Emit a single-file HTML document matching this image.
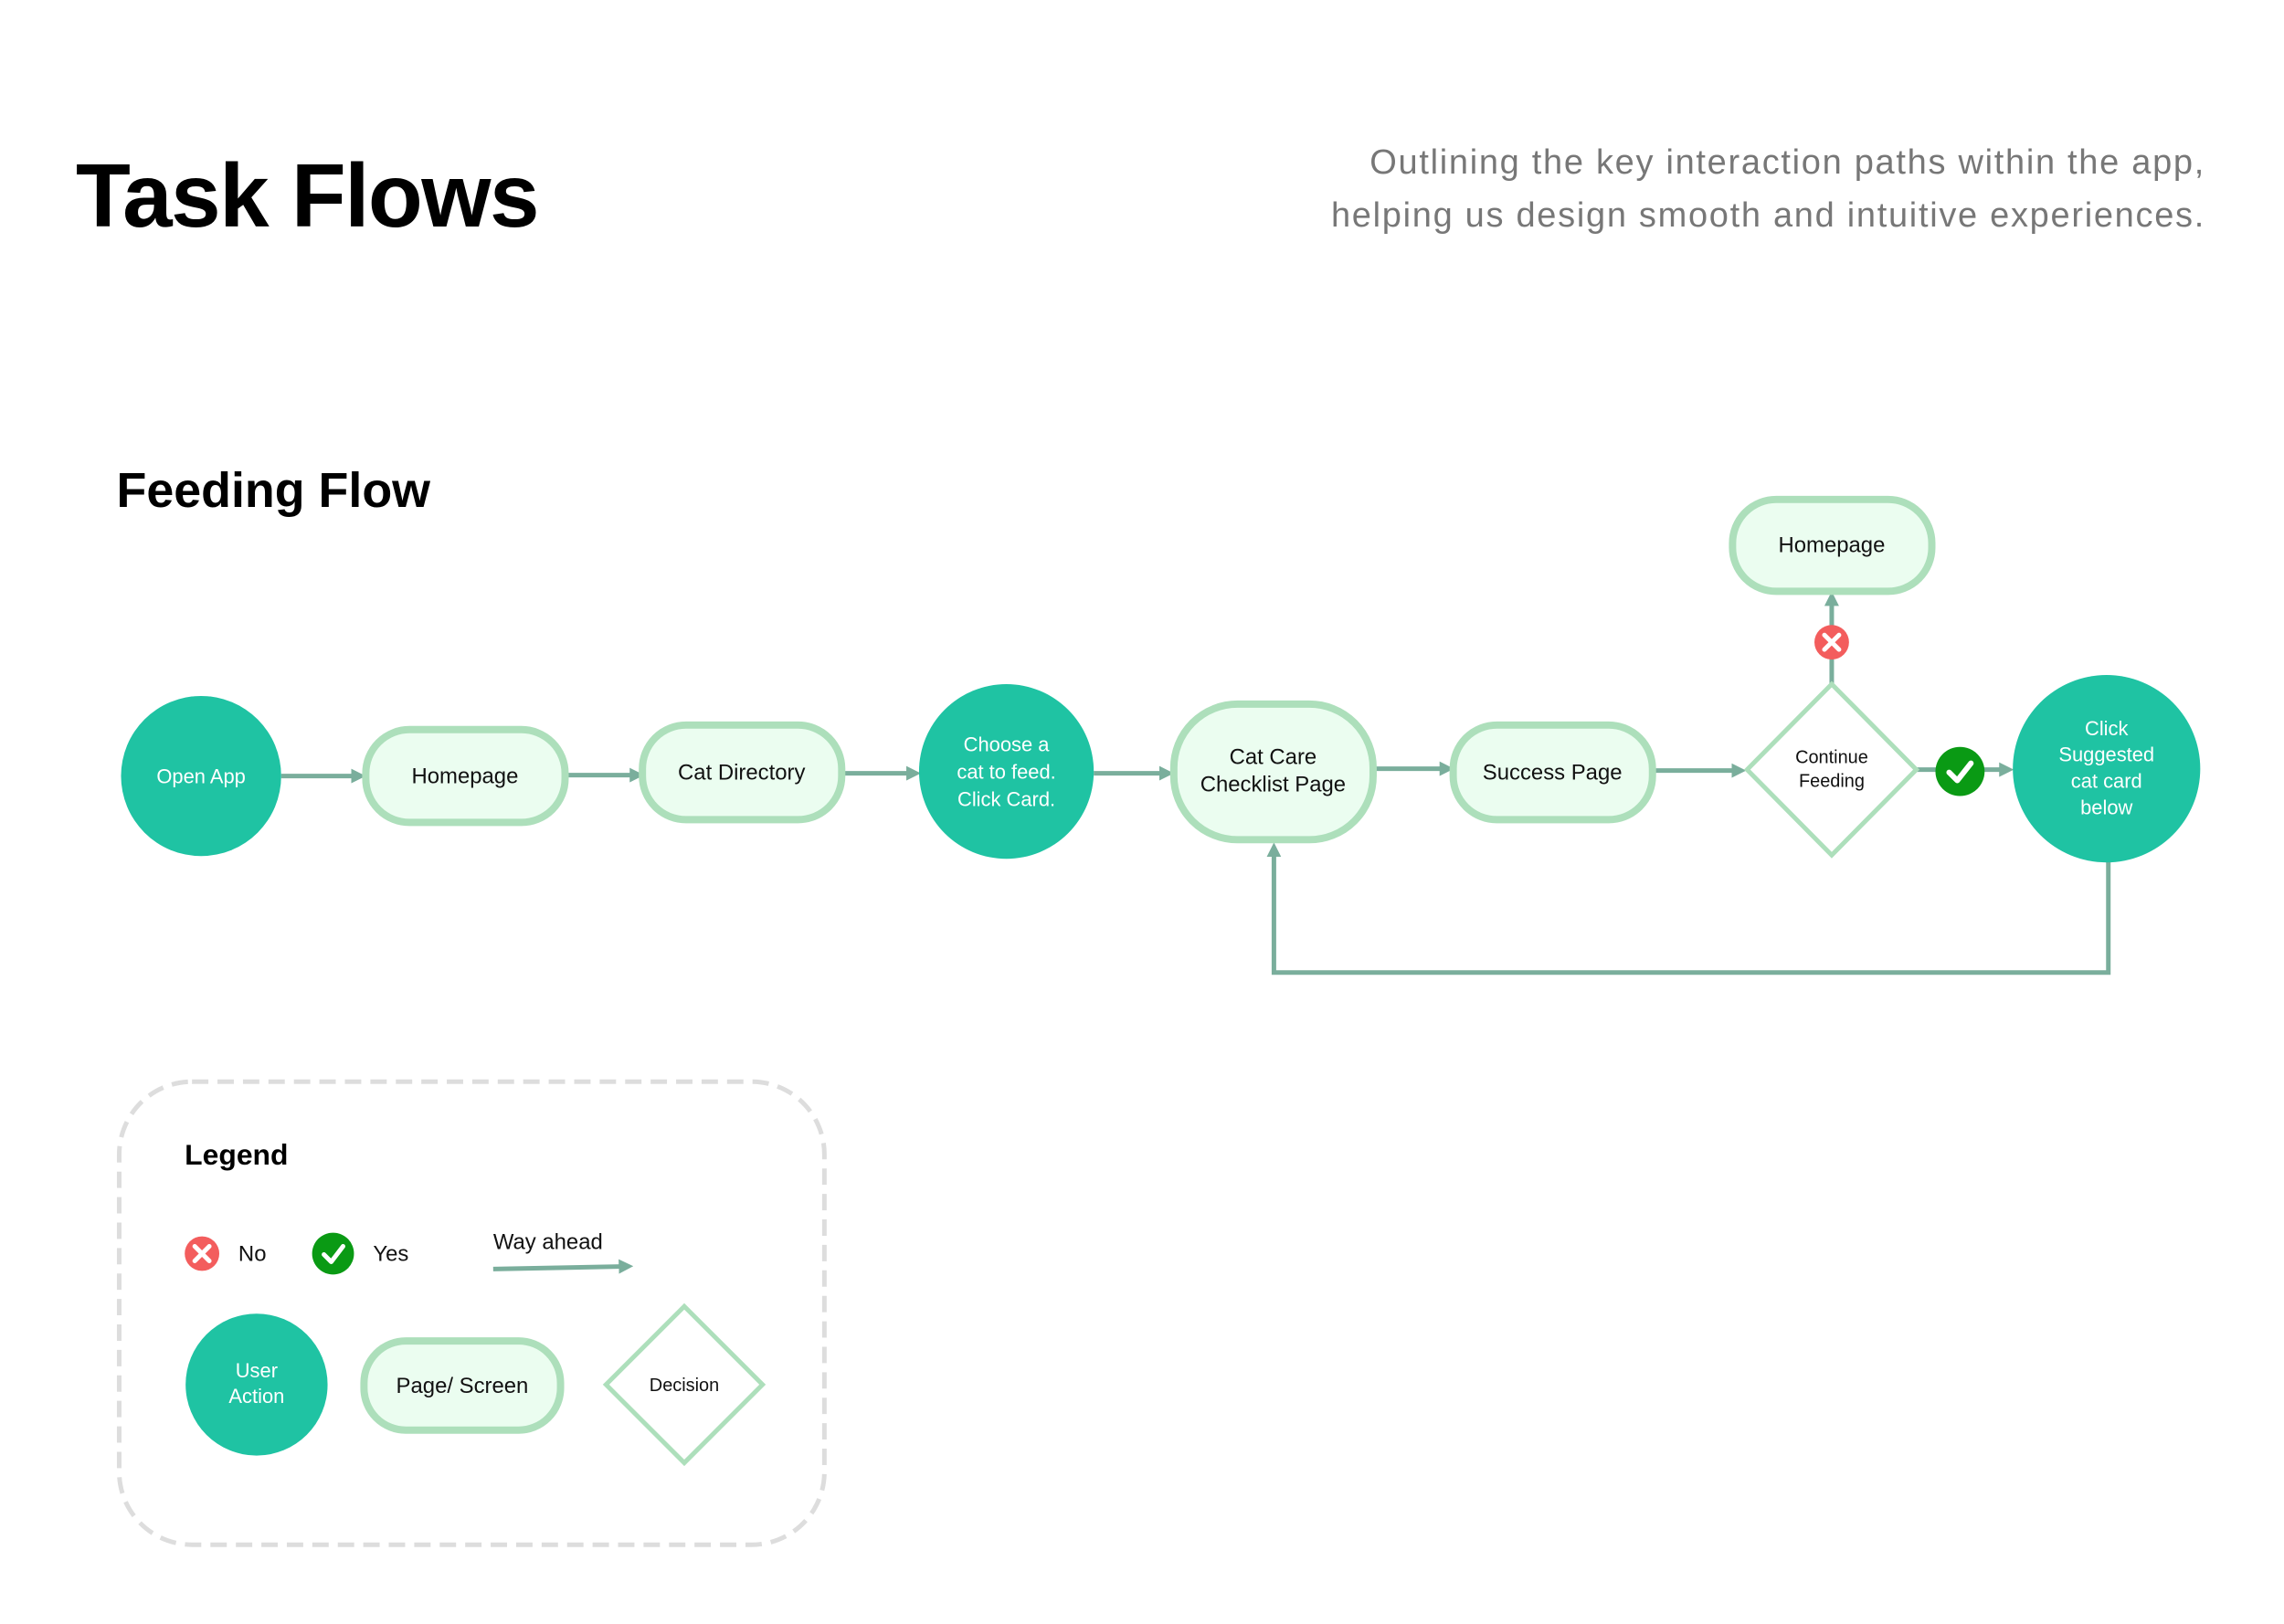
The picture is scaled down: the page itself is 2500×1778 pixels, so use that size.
<!DOCTYPE html>
<html><head><meta charset="utf-8"><style>
html,body{margin:0;padding:0;background:#fff}
svg{display:block}
text{font-family:"Liberation Sans",sans-serif}
</style></head><body>
<svg width="2500" height="1778" viewBox="0 0 2500 1778" xmlns="http://www.w3.org/2000/svg">
<defs>
<marker id="ah" markerWidth="16" markerHeight="16" refX="10" refY="8" orient="auto" markerUnits="userSpaceOnUse" viewBox="0 0 16 16">
<path d="M0,0 L16,8 L0,16 z" fill="#7aae9c"/>
</marker>
</defs>
<style>
.ln{stroke:#7aae9c;stroke-width:5;fill:none}
.pg{fill:#ebfdf0;stroke:#addfbb;stroke-width:8}
.ua{fill:#1fc3a3}
.t{font-size:24px;fill:#111;text-anchor:middle}
.w{font-size:22px;fill:#fff;text-anchor:middle}
</style>
<text x="83" y="248" font-size="98" font-weight="900" fill="#000" style="letter-spacing:-1.5px">Task Flows</text>
<text x="2414" y="190" font-size="38" fill="#777" text-anchor="end" style="letter-spacing:1.7px">Outlining the key interaction paths within the app,</text>
<text x="2414" y="248" font-size="38" fill="#777" text-anchor="end" style="letter-spacing:1.7px">helping us design smooth and intuitive experiences.</text>
<g transform="scale(0.996)">
<text x="128" y="557" font-size="54" font-weight="bold" fill="#000">Feeding Flow</text>

<line class="ln" x1="309" y1="853" x2="396" y2="853" marker-end="url(#ah)"/>
<line class="ln" x1="621" y1="852" x2="702" y2="852" marker-end="url(#ah)"/>
<line class="ln" x1="925" y1="850" x2="1006" y2="850" marker-end="url(#ah)"/>
<line class="ln" x1="1202" y1="850" x2="1284" y2="850" marker-end="url(#ah)"/>
<line class="ln" x1="1509" y1="845" x2="1592" y2="845" marker-end="url(#ah)"/>
<line class="ln" x1="1816" y1="847" x2="1913" y2="847" marker-end="url(#ah)"/>
<line class="ln" x1="2106" y1="846" x2="2207" y2="846" marker-end="url(#ah)"/>
<line class="ln" x1="2013" y1="752" x2="2013" y2="656" marker-end="url(#ah)"/>
<polyline class="ln" points="2317,945 2317,1069 1400,1069 1400,932" marker-end="url(#ah)"/>

<circle class="ua" cx="221" cy="853" r="88"/>
<text class="w" x="221" y="861">Open App</text>
<rect class="pg" x="402" y="802" width="219" height="102" rx="48"/>
<text class="t" x="511" y="861">Homepage</text>
<rect class="pg" x="706" y="797" width="219" height="104" rx="48"/>
<text class="t" x="815" y="857">Cat Directory</text>
<circle class="ua" cx="1106" cy="848" r="96"/>
<text class="w" x="1106" y="826">Choose a</text>
<text class="w" x="1106" y="856">cat to feed.</text>
<text class="w" x="1106" y="886">Click Card.</text>
<rect class="pg" x="1290" y="774" width="219" height="149" rx="70"/>
<text class="t" x="1399" y="840">Cat Care</text>
<text class="t" x="1399" y="870">Checklist Page</text>
<rect class="pg" x="1597" y="797" width="219" height="104" rx="48"/>
<text class="t" x="1706" y="857">Success Page</text>
<polygon points="2013,752 2106,846 2013,940 1920,846" fill="#fff" stroke="#addfbb" stroke-width="5"/>
<text x="2013" y="839" font-size="20" fill="#111" text-anchor="middle">Continue</text>
<text x="2013" y="865" font-size="20" fill="#111" text-anchor="middle">Feeding</text>
<rect class="pg" x="1904" y="549" width="219" height="101" rx="48"/>
<text class="t" x="2013" y="607">Homepage</text>
<circle class="ua" cx="2315" cy="845" r="103"/>
<text class="w" x="2315" y="808">Click</text>
<text class="w" x="2315" y="837">Suggested</text>
<text class="w" x="2315" y="866">cat card</text>
<text class="w" x="2315" y="895">below</text>

<circle cx="2013" cy="706" r="19" fill="#f35d5d"/>
<path d="M2005,698 L2021,714 M2021,698 L2005,714" stroke="#fff" stroke-width="5" stroke-linecap="round"/>
<circle cx="2154" cy="848" r="27" fill="#0a9a14"/>
<path d="M2142,849 L2151,858 L2166,839" stroke="#fff" stroke-width="6" fill="none" stroke-linecap="round" stroke-linejoin="round"/>

<rect x="131" y="1189" width="775" height="509" rx="80" fill="none" stroke="#ddd" stroke-width="5" stroke-dasharray="18,10"/>
<text x="203" y="1280" font-size="32" font-weight="bold" fill="#000">Legend</text>
<circle cx="222" cy="1378" r="19" fill="#f35d5d"/>
<path d="M214,1370 L230,1386 M230,1370 L214,1386" stroke="#fff" stroke-width="5" stroke-linecap="round"/>
<text x="262" y="1386" font-size="24" fill="#111">No</text>
<circle cx="366" cy="1378" r="23" fill="#0a9a14"/>
<path d="M356,1379 L364,1387 L377,1370" stroke="#fff" stroke-width="5" fill="none" stroke-linecap="round" stroke-linejoin="round"/>
<text x="410" y="1386" font-size="24" fill="#111">Yes</text>
<text x="542" y="1373" font-size="24" fill="#111">Way ahead</text>
<line class="ln" x1="542" y1="1395" x2="690" y2="1392" marker-end="url(#ah)"/>
<circle class="ua" cx="282" cy="1522" r="78"/>
<text class="w" x="282" y="1514">User</text>
<text class="w" x="282" y="1542">Action</text>
<rect class="pg" x="400" y="1474" width="216" height="98" rx="46"/>
<text class="t" x="508" y="1531">Page/ Screen</text>
<polygon points="752,1436 838,1522 752,1608 666,1522" fill="#fff" stroke="#addfbb" stroke-width="5"/>
<text x="752" y="1529" font-size="20" fill="#111" text-anchor="middle">Decision</text>
</g>
</svg>
</body></html>
